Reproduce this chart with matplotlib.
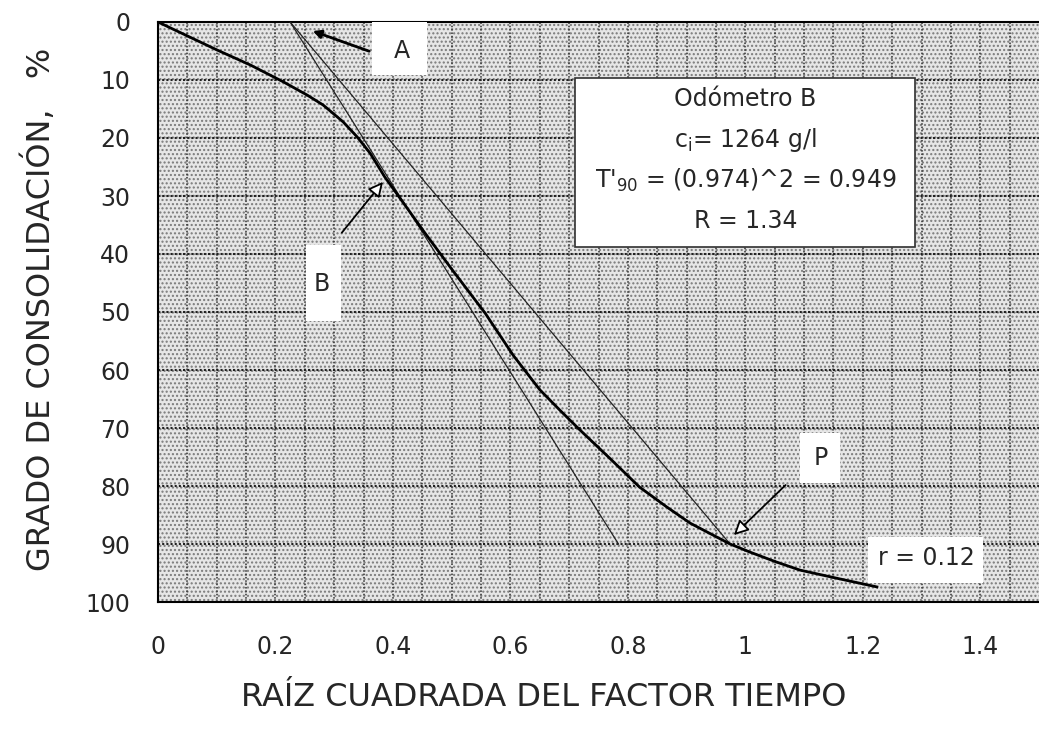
import matplotlib
matplotlib.use("Agg")
import matplotlib.pyplot as plt
from matplotlib.patches import Rectangle, FancyArrowPatch
import numpy as np

plt.rcParams['font.family'] = ['DejaVu Sans']

# Consolidation curve (square root of time factor vs. degree of consolidation)
curve_x = [0.0, 0.05, 0.10, 0.157, 0.213, 0.254, 0.281, 0.315, 0.339, 0.361,
           0.386, 0.42, 0.451, 0.50, 0.557, 0.605, 0.650, 0.684, 0.718, 0.769,
           0.820, 0.866, 0.906, 0.974, 1.008, 1.05, 1.093, 1.16, 1.224]
curve_y = [0.0, 2.4, 4.8, 7.4, 10.3, 12.6, 14.3, 17.2, 19.8, 22.6,
           26.7, 31.5, 35.9, 42.6, 50.2, 57.5, 63.4, 66.9, 70.3, 75.2,
           80.2, 83.6, 86.4, 90.0, 91.4, 93.0, 94.5, 96.0, 97.4]

# Straight construction lines (initial tangent and R-scaled line)
line1_x = [0.225, 0.784]
line1_y = [0.0, 90.0]
line2_x = [0.225, 0.974]
line2_y = [0.0, 90.0]

x_ticks = [0, 0.2, 0.4, 0.6, 0.8, 1.0, 1.2, 1.4]
x_tick_labels = ['0', '0.2', '0.4', '0.6', '0.8', '1', '1.2', '1.4']
y_ticks = list(range(0, 101, 10))

info_lines = ["Odómetro B",
              r"c$_\mathregular{i}$= 1264 g/l",
              r"T'$_\mathregular{90}$ = (0.974)^2 = 0.949",
              "R = 1.34"]

txt_color = '#262626'

fig = plt.figure(figsize=(10.39, 7.31), dpi=100)
ax = fig.add_axes([158 / 1039, 129 / 731, 1 - 158 / 1039, (602 - 22) / 731])
ax.set_xlim(0, 1.5)
ax.set_ylim(100, 0)

# stippled plot background
bg = Rectangle((0, 0), 1, 1, transform=ax.transAxes, facecolor='#e6e6e6',
               edgecolor='#7a7a7a', hatch='....', linewidth=0, zorder=0)
ax.add_patch(bg)
ax.set_facecolor('white')

# dotted grid
for gx in np.arange(0.05, 1.5, 0.05):
    ax.axvline(gx, color='#303030', lw=1.1, ls=(0, (1, 1.2)), zorder=1)
for gy in range(10, 100, 10):
    ax.axhline(gy, color='#202020', lw=1.5, ls=(0, (1, 1)), zorder=1)

ax.plot(line1_x, line1_y, color='#222222', lw=0.9, zorder=3)
ax.plot(line2_x, line2_y, color='#222222', lw=0.9, zorder=3)
ax.plot(curve_x, curve_y, color='black', lw=2.0, zorder=4,
        solid_joinstyle='round')

# white label boxes
boxes = [(0.364, 0.0, 0.094, 9.1), (0.252, 38.5, 0.06, 13.0),
         (1.093, 70.9, 0.068, 8.6), (1.209, 88.8, 0.195, 7.9),
         (0.710, 9.7, 0.579, 29.1)]
for bx, by, bw, bh in boxes:
    ax.add_patch(Rectangle((bx, by), bw, bh, facecolor='white',
                           edgecolor='none', zorder=5))
ax.add_patch(Rectangle((0.710, 9.7), 0.579, 29.1, facecolor='none',
                       edgecolor='#303030', lw=1.2, zorder=6))

for i, s in enumerate(info_lines):
    ax.text(1.0, 13.3 + i * 7.0, s, ha='center', va='center', fontsize=17,
            color=txt_color, zorder=7)

ax.text(0.415, 5.0, 'A', ha='center', va='center', fontsize=17, color=txt_color, zorder=7)
ax.text(0.278, 45.2, 'B', ha='center', va='center', fontsize=17, color=txt_color, zorder=7)
ax.text(1.128, 75.2, 'P', ha='center', va='center', fontsize=17, color=txt_color, zorder=7)
ax.text(1.309, 92.4, 'r = 0.12', ha='center', va='center', fontsize=17, color=txt_color, zorder=7)

# arrows
ax.add_patch(FancyArrowPatch((0.364, 5.2), (0.259, 1.4), arrowstyle='-|>',
                             mutation_scale=12, lw=2.0, color='black', zorder=8))
ax.add_patch(FancyArrowPatch((0.310, 36.7), (0.386, 27.2), arrowstyle='-|>',
                             mutation_scale=22, lw=1.3, fc='white', ec='black', zorder=8))
ax.add_patch(FancyArrowPatch((1.072, 79.5), (0.977, 88.8), arrowstyle='-|>',
                             mutation_scale=22, lw=1.3, fc='white', ec='black', zorder=8))

ax.set_xticks(x_ticks)
ax.set_xticklabels(x_tick_labels)
ax.set_yticks(y_ticks)
ax.tick_params(length=0, labelsize=17, labelcolor=txt_color)
ax.tick_params(axis='y', pad=20)
ax.tick_params(axis='x', pad=24)
for side in ['left', 'bottom', 'top']:
    ax.spines[side].set_color('black')
    ax.spines[side].set_linewidth(1.5)
ax.spines['right'].set_visible(False)

fig.text(544 / 1039, 1 - 697 / 731, 'RAÍZ CUADRADA DEL FACTOR TIEMPO',
         ha='center', va='center', fontsize=23, color=txt_color)
fig.text(40 / 1039, 1 - 309 / 731, 'GRADO DE CONSOLIDACIÓN,   %',
         ha='center', va='center', rotation=90, fontsize=23, color=txt_color)

fig.savefig('out.png', dpi=100)
